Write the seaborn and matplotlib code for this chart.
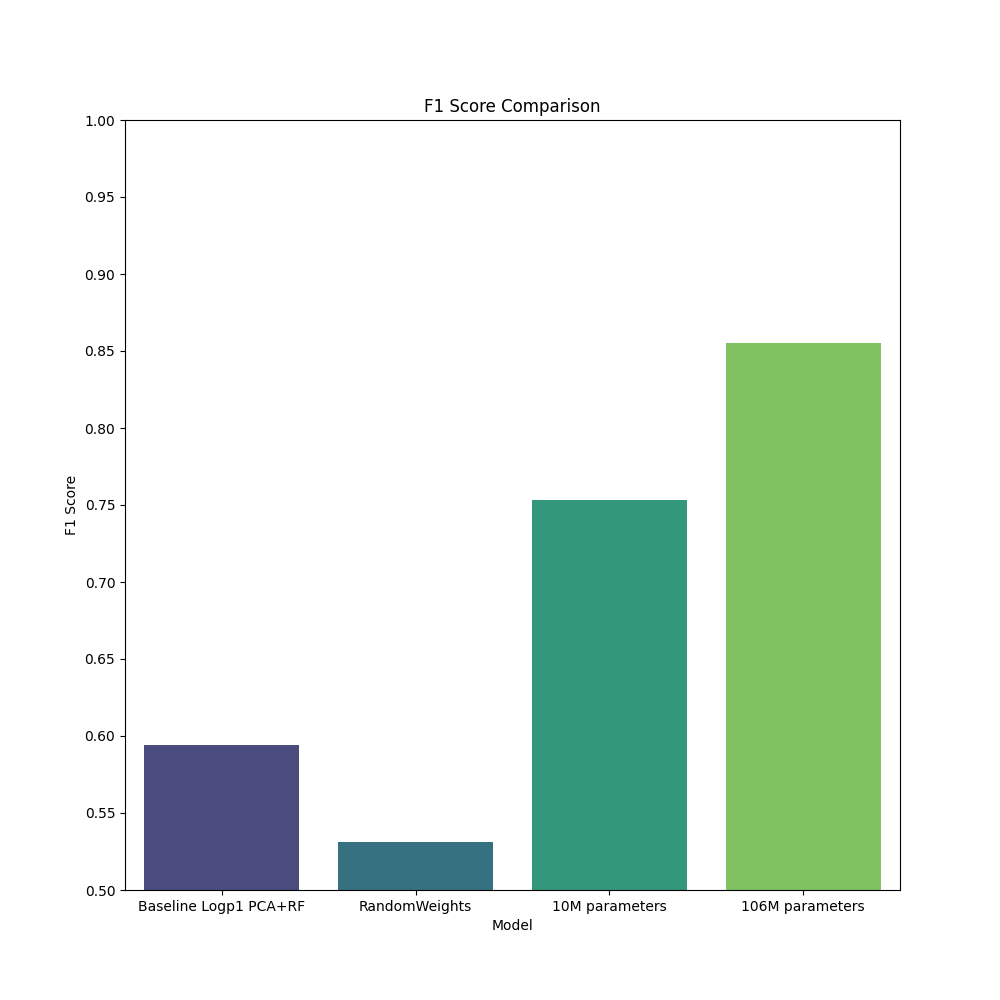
import matplotlib
matplotlib.use("Agg")
import matplotlib.pyplot as plt
import seaborn as sns
import pandas as pd
import numpy as np
from matplotlib.ticker import MultipleLocator, FormatStrFormatter

models = ["Baseline Logp1 PCA+RF", "RandomWeights", "10M parameters", "106M parameters"]
f1_scores = [0.594, 0.531, 0.753, 0.855]

df = pd.DataFrame({"Model": models, "F1 Score": f1_scores})

fig, ax = plt.subplots(figsize=(10, 10), dpi=100)
sns.barplot(data=df, x="Model", y="F1 Score", hue="Model", palette="viridis", legend=False, ax=ax)
ax.set_ylim(0.5, 1.0)
ax.yaxis.set_major_locator(MultipleLocator(0.05))
ax.yaxis.set_major_formatter(FormatStrFormatter("%.2f"))
ax.set_title("F1 Score Comparison")
ax.set_xlabel("Model")
ax.set_ylabel("F1 Score")
fig.savefig("out.png", dpi=100)
